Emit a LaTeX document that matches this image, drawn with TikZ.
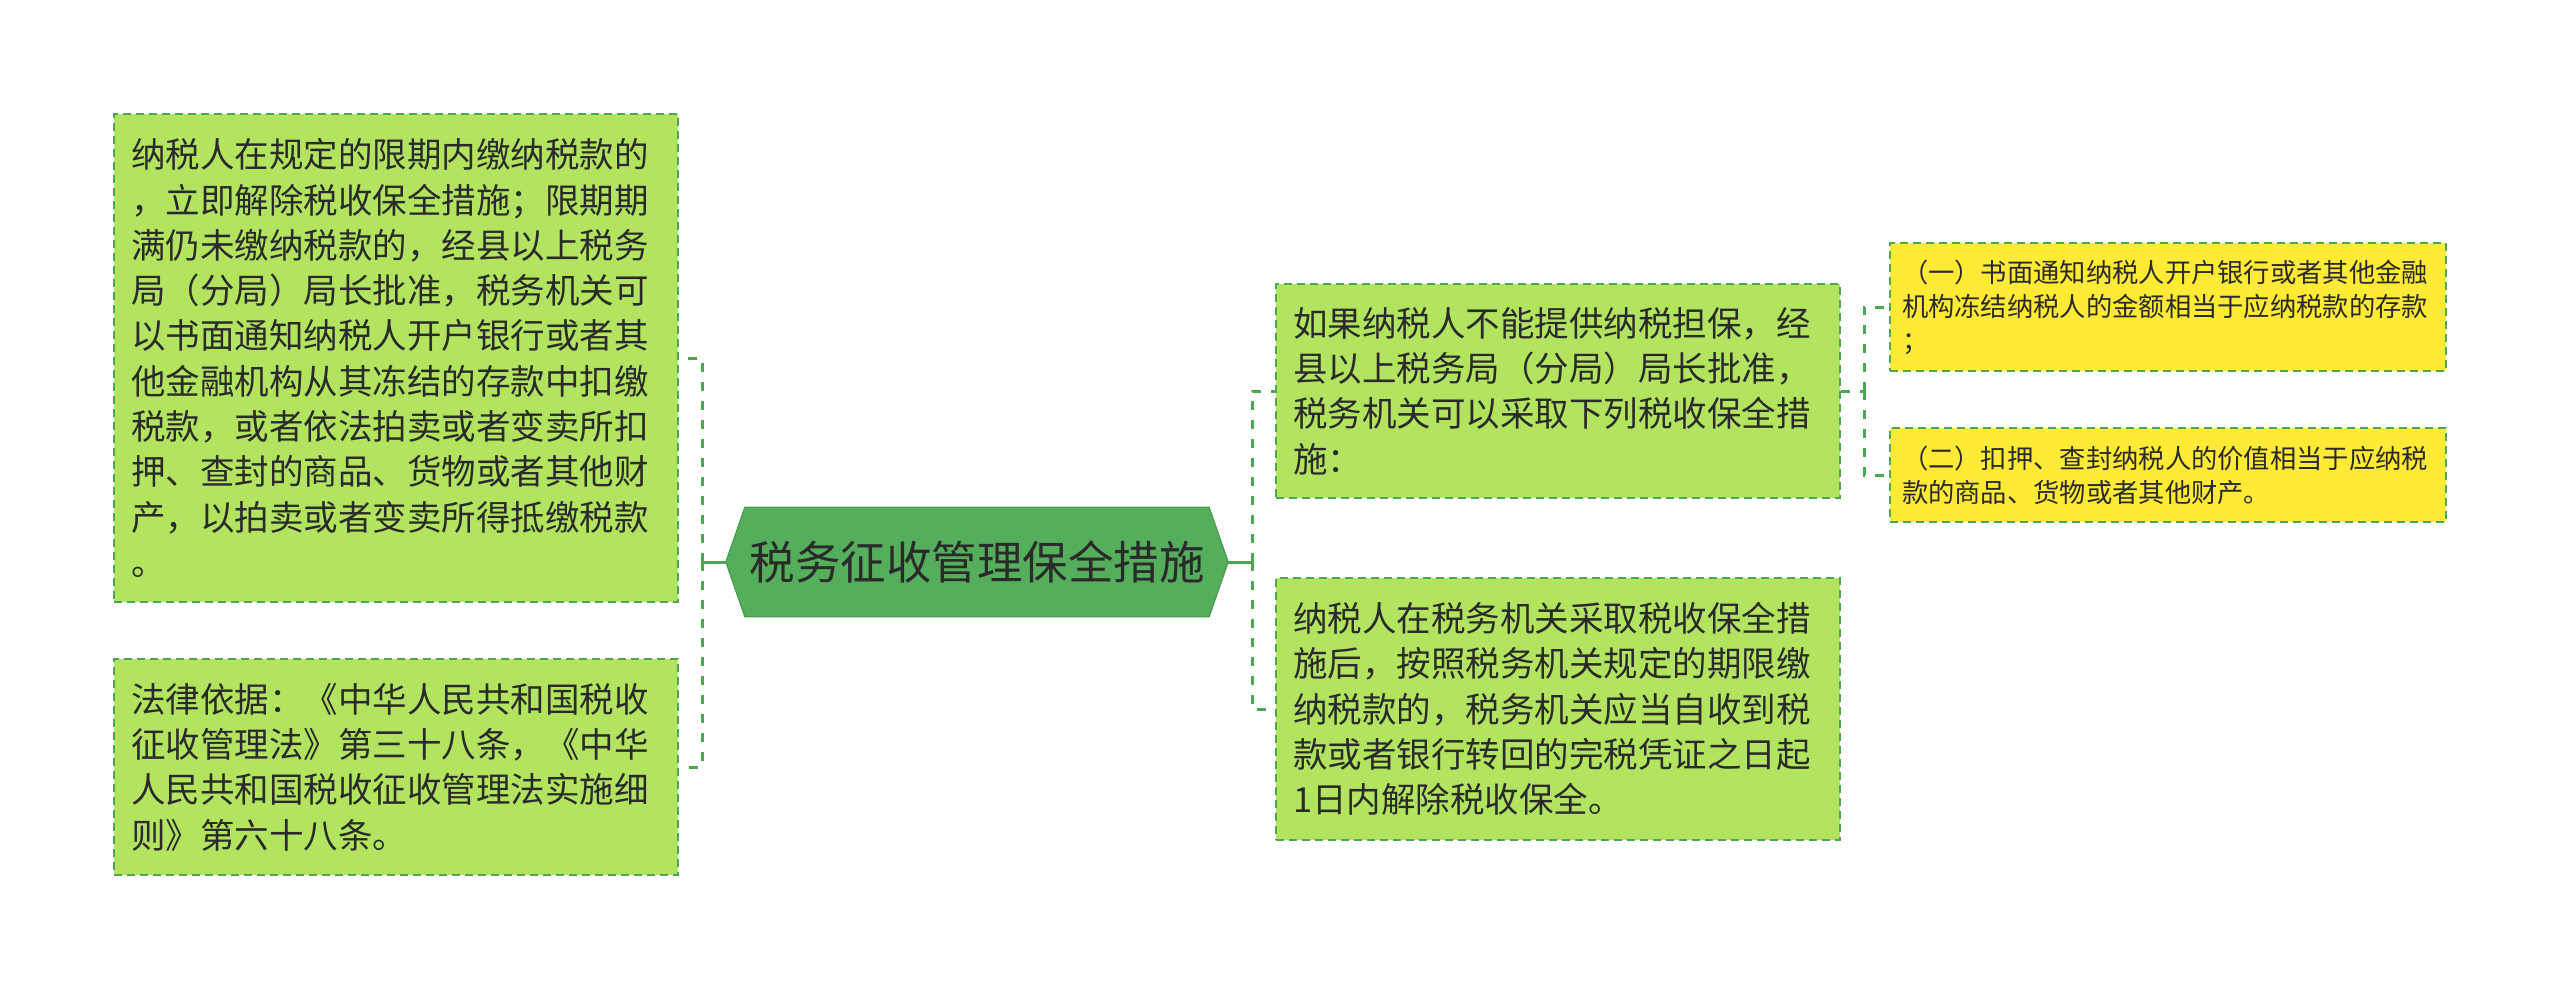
\documentclass[tikz,border=0pt]{standalone}
\usepackage{fontspec}
\setmainfont{Noto Sans CJK SC}
\definecolor{boxgreen}{HTML}{B3E460}
\definecolor{linegreen}{HTML}{4CA652}
\definecolor{hexgreen}{HTML}{55AE5C}
\definecolor{hexborder}{HTML}{4A9C50}
\definecolor{boxyellow}{HTML}{FFEA35}
\definecolor{txt}{HTML}{2A2A2A}
\tikzset{
  bigbox/.style={draw=linegreen, fill=boxgreen, line width=2pt, dash pattern=on 8pt off 5pt,
    text=txt, align=left, text width=530pt, inner xsep=17pt, inner ysep=0pt,
    minimum width=564pt, font=\fontsize{34.5pt}{45.3pt}\selectfont},
  ybox/.style={draw=linegreen, fill=boxyellow, line width=2pt, dash pattern=on 8pt off 5pt,
    text=txt, align=left, text width=532pt, inner xsep=12pt, inner ysep=0pt,
    minimum width=556pt, font=\fontsize{26.3pt}{34pt}\selectfont},
  conn/.style={draw=linegreen, line width=3pt, dash pattern=on 9pt off 10pt},
  solidconn/.style={draw=linegreen, line width=3pt},
  hexfont/.style={text=txt, font=\fontsize{45.5pt}{54pt}\selectfont, inner sep=0pt},
}
\begin{document}
\begin{tikzpicture}[x=1pt,y=1pt]
\useasboundingbox (0,0) rectangle (2560,-989);
\fill[white] (0,0) rectangle (2560,-989);

% central hexagon
\node[minimum width=502pt, minimum height=109pt, inner sep=0pt] (hexbox) at (977,-562) {};
\fill[hexgreen, draw=hexborder, line width=1.2pt] (hexbox.west) -- ([xshift=19pt]hexbox.north west) -- ([xshift=-19pt]hexbox.north east) -- (hexbox.east) -- ([xshift=-19pt]hexbox.south east) -- ([xshift=19pt]hexbox.south west) -- cycle;
\node[hexfont] (hex) at (hexbox.center) {税务征收管理保全措施};

% left boxes
\node[bigbox, minimum height=488pt] (L1) at (396,-358) {纳税人在规定的限期内缴纳税款的\\，立即解除税收保全措施；限期期\\满仍未缴纳税款的，经县以上税务\\局（分局）局长批准，税务机关可\\以书面通知纳税人开户银行或者其\\他金融机构从其冻结的存款中扣缴\\税款，或者依法拍卖或者变卖所扣\\押、查封的商品、货物或者其他财\\产，以拍卖或者变卖所得抵缴税款\\。};
\node[bigbox, minimum height=216pt] (L2) at (396,-767) {法律依据：《中华人民共和国税收\\征收管理法》第三十八条，《中华\\人民共和国税收征收管理法实施细\\则》第六十八条。};

% right boxes
\node[bigbox, minimum height=214pt] (R1) at (1558,-391) {如果纳税人不能提供纳税担保，经\\县以上税务局（分局）局长批准，\\税务机关可以采取下列税收保全措\\施：};
\node[bigbox, minimum height=262pt] (R2) at (1558,-709) {纳税人在税务机关采取税收保全措\\施后，按照税务机关规定的期限缴\\纳税款的，税务机关应当自收到税\\款或者银行转回的完税凭证之日起\\1日内解除税收保全。};

% yellow boxes
\node[ybox, minimum height=128pt] (Y1) at (2168,-307) {（一）书面通知纳税人开户银行或者其他金融\\机构冻结纳税人的金额相当于应纳税款的存款\\；};
\node[ybox, minimum height=94pt] (Y2) at (2168,-475) {（二）扣押、查封纳税人的价值相当于应纳税\\款的商品、货物或者其他财产。};

% junctions
\coordinate (jl) at (702,-562);
\coordinate (jr) at (1252,-562);
\coordinate (jy) at (1864,-391);

% connectors
\draw[solidconn] (hexbox.west) -- (jl);
\draw[solidconn] ([yshift=-6pt]jl) -- ([yshift=6pt]jl);
\draw[conn] (jl) |- (L1.east);
\draw[conn] (jl) |- (L2.east);

\draw[solidconn] (hexbox.east) -- (jr);
\draw[solidconn] ([yshift=-6pt]jr) -- ([yshift=6pt]jr);
\draw[conn] (jr) |- (R1.west);
\draw[conn] (jr) |- (R2.west);

\draw[conn] (R1.east) -- (jy);
\draw[conn] (jy) |- (Y1.west);
\draw[conn] (jy) |- (Y2.west);
\end{tikzpicture}
\end{document}
